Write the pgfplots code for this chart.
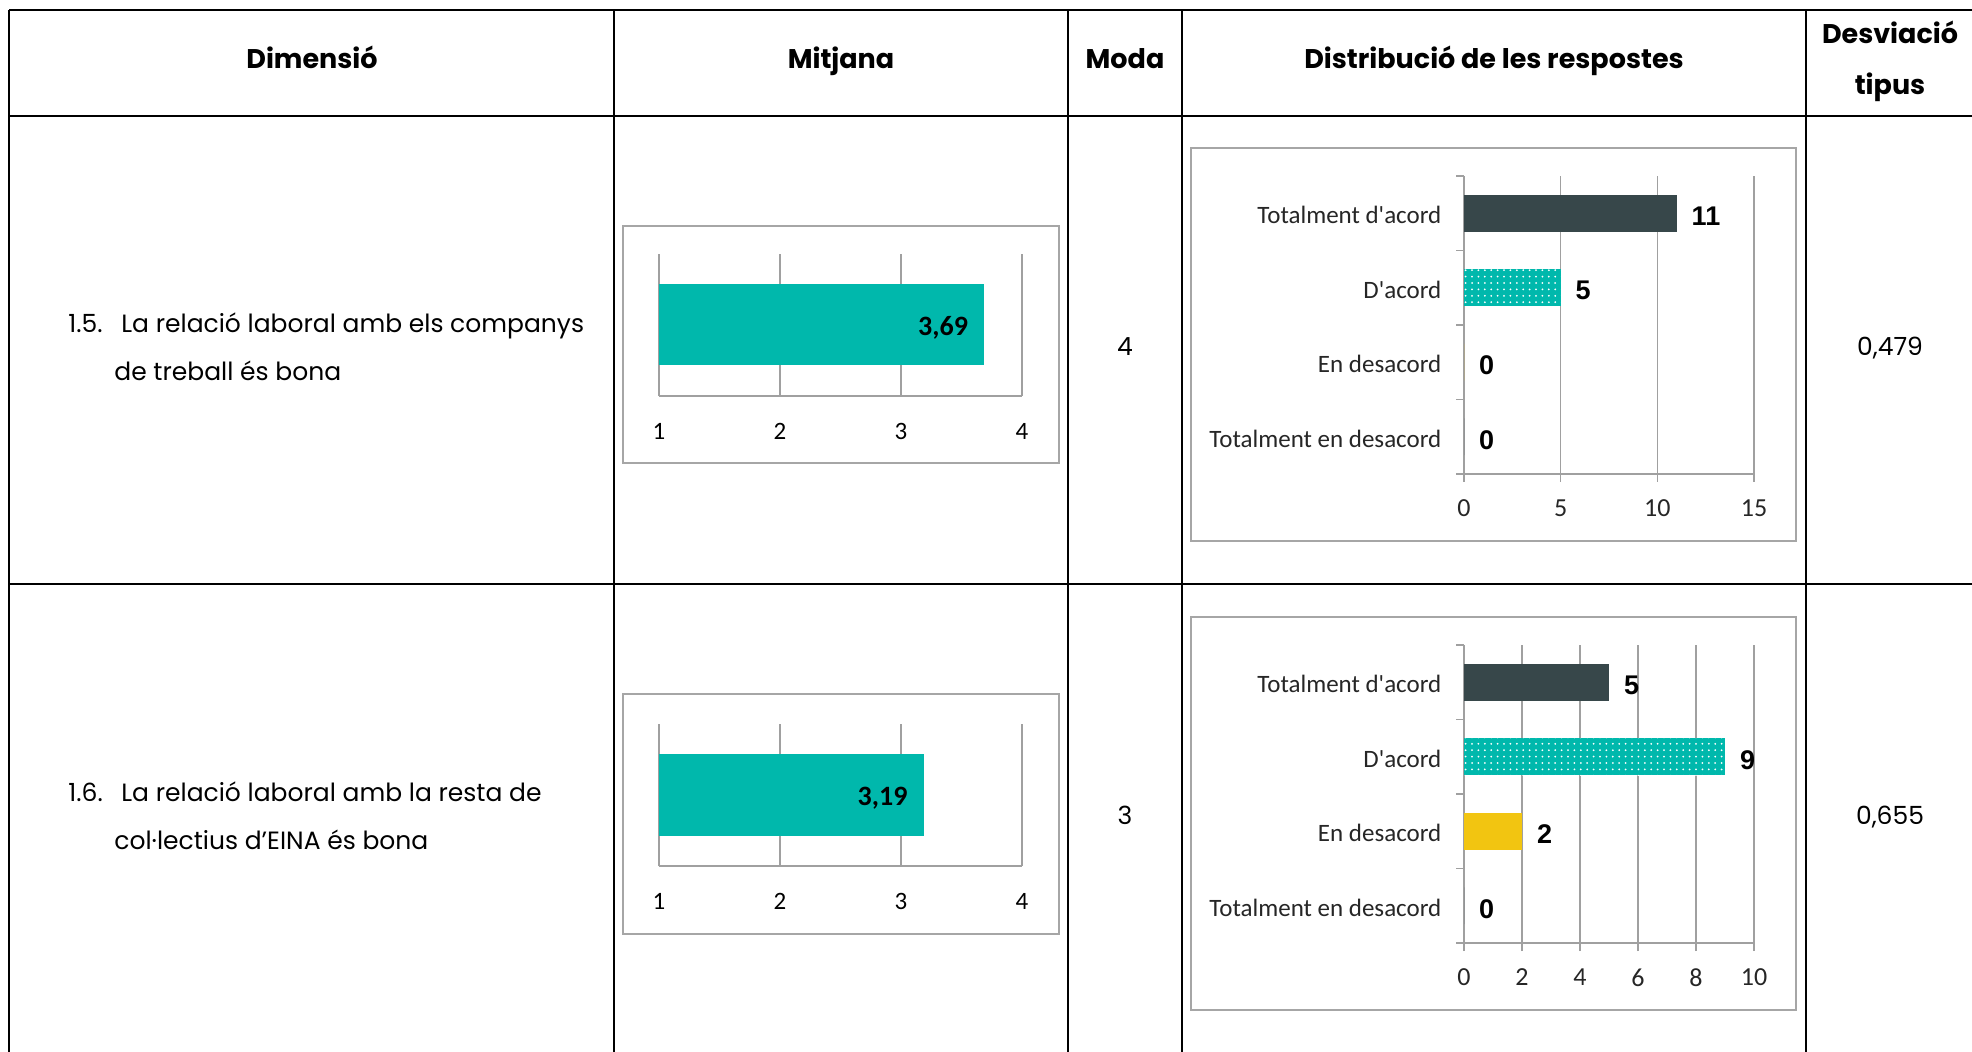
\documentclass[border=0pt]{standalone}
\usepackage{fontspec}
\setmainfont{Poppins}
\newfontfamily\chartfont{Carlito}
\newfontfamily\valfont{Liberation Sans}
\usepackage{pgfplots}
\pgfplotsset{compat=1.18}
\usetikzlibrary{patterns}

\definecolor{barteal}{HTML}{00B8AC}
\definecolor{bardark}{HTML}{37474A}
\definecolor{baryellow}{HTML}{F2C511}
\definecolor{gridgray}{HTML}{A0A0A0}
\definecolor{boxgray}{HTML}{A6A6A6}

% white dots, a bit sparser than tikz's own
\pgfdeclarepatternformonly{whitedots}{\pgfqpoint{-1pt}{-1pt}}{\pgfqpoint{1pt}{1pt}}{\pgfqpoint{3.2pt}{3.2pt}}{%
  \pgfpathcircle{\pgfqpoint{0pt}{0pt}}{.5pt}\pgfusepath{fill}}

\pgfplotsset{
  meanchart/.style={
    at={(329.5pt,#1)}, anchor=south west,
    scale only axis, width=181.5pt, height=71pt,
    xmin=1, xmax=4, ymin=-0.5, ymax=0.5,
    xbar, bar width=40.5pt,
    axis x line*=bottom, axis y line=none,
    xtick={1,2,3,4}, ytick=\empty,
    xmajorgrids, grid style={gridgray, line width=0.6pt},
    x axis line style={gridgray, line width=0.6pt, -},
    xtick style={draw=none},
    /pgf/number format/assume math mode=true,
    xticklabel style={font=\chartfont\fontsize{12.5}{13}\selectfont, anchor=center, yshift=-17.5pt},
    point meta=explicit symbolic,
    nodes near coords,
    nodes near coords style={anchor=east, xshift=-4.7pt, yshift=-1.5pt, text=black,
      font=\chartfont\bfseries\fontsize{14}{15}\selectfont},
  },
  distchart/.style={
    at={(732pt,#1)}, anchor=south west,
    scale only axis, width=145pt, height=149pt,
    xmin=0, ymin=-0.5, ymax=3.5,
    xbar, bar width=18.3pt, bar shift=0pt,
    axis x line*=bottom, axis y line*=left,
    axis line style={gridgray, line width=0.6pt, -},
    ytick={0,1,2,3},
    yticklabels={Totalment en desacord, En desacord, D'acord, Totalment d'acord},
    minor ytick={-0.5,0.5,1.5,2.5,3.5},
    tick align=outside, major tick length=4pt, minor tick length=4pt,
    every tick/.style={gridgray, line width=0.6pt},
    major y tick style={draw=none},
    xmajorgrids, grid style={gridgray, line width=0.6pt},
    /pgf/number format/assume math mode=true,
    yticklabel style={font=\chartfont\fontsize{12.5}{13}\selectfont, text=black!85, xshift=-3.8pt, yshift=-1pt},
    xticklabel style={font=\chartfont\fontsize{13}{14}\selectfont, anchor=center, yshift=-13.2pt, text=black!85},
    nodes near coords,
    nodes near coords style={anchor=west, xshift=4pt, yshift=-1.5pt, text=black,
      font=\valfont\bfseries\fontsize{13.5}{14}\selectfont},
  },
}

\begin{document}
\begin{tikzpicture}
\clip (0pt,0pt) rectangle (986pt,525.5pt);
\fill[white] (0pt,0pt) rectangle (986pt,525.5pt);

% table rules
\begin{scope}[line width=1pt, black]
\draw (4.5pt,520.5pt) -- (995pt,520.5pt);
\draw (4.5pt,467.5pt) -- (995pt,467.5pt);
\draw (4.5pt,233.5pt) -- (995pt,233.5pt);
\foreach \x in {4.5,307,534,591,903}
  \draw (\x pt,-5pt) -- (\x pt,520.5pt);
\end{scope}

% header
\begin{scope}[font=\bfseries\fontsize{13.5}{15}\selectfont, anchor=base]
\node at (156pt,491.3pt) {Dimensió};
\node at (420.5pt,491.3pt) {Mitjana};
\node at (562.5pt,491.3pt) {Moda};
\node at (747pt,491.3pt) {Distribució de les respostes};
\node at (945pt,503.8pt) {Desviació};
\node at (945pt,478pt) {tipus};
\end{scope}

% body text
\begin{scope}[font=\fontsize{12.5}{14}\selectfont, inner sep=0pt]
\node[anchor=mid west] at (34pt,362pt) {1.5.};
\node[anchor=mid west] at (60.5pt,362pt) {La relació laboral amb els companys};
\node[anchor=mid west] at (57pt,338pt) {de treball és bona};
\node[anchor=mid west] at (34pt,127.5pt) {1.6.};
\node[anchor=mid west] at (60.5pt,127.5pt) {La relació laboral amb la resta de};
\node[anchor=mid west] at (57pt,103.5pt) {col·lectius d’EINA és bona};
\node[anchor=base] at (562.5pt,347.6pt) {4};
\node[anchor=base] at (562.5pt,113.1pt) {3};
\node[anchor=base] at (945pt,347.6pt) {0,479};
\node[anchor=base] at (945pt,113.1pt) {0,655};
\end{scope}

% chart frames
\begin{scope}[boxgray, line width=0.7pt]
\draw (311.5pt,294pt) rectangle (529.5pt,412.5pt);
\draw (311.5pt,58.5pt) rectangle (529.5pt,178.5pt);
\draw (595.5pt,255pt) rectangle (898pt,451.5pt);
\draw (595.5pt,20.5pt) rectangle (898pt,217pt);
\end{scope}

% mean 1.5
\begin{axis}[meanchart=327.5pt]
\addplot[fill=barteal, draw=none] coordinates {(3.69,0) [3,69]};
\end{axis}

% mean 1.6
\begin{axis}[meanchart=92.5pt]
\addplot[fill=barteal, draw=none] coordinates {(3.19,0) [3,19]};
\end{axis}

% distribution 1.5
\begin{axis}[distchart=288.5pt, xmax=15, xtick={0,5,10,15}]
\addplot[fill=bardark, draw=none] coordinates {(11,3)};
\addplot[draw=none, preaction={fill=barteal}, pattern=whitedots, pattern color=white] coordinates {(5,2)};
\addplot[fill=baryellow, draw=none] coordinates {(0,1)};
\addplot[fill=bardark, draw=none] coordinates {(0,0)};
\draw[gridgray, line width=0.6pt] (axis cs:0,-0.5) -- ++(-4pt,0pt);
\end{axis}

% distribution 1.6
\begin{axis}[distchart=54pt, xmax=10, xtick={0,2,4,6,8,10}]
\addplot[fill=bardark, draw=none] coordinates {(5,3)};
\addplot[draw=none, preaction={fill=barteal}, pattern=whitedots, pattern color=white] coordinates {(9,2)};
\addplot[fill=baryellow, draw=none] coordinates {(2,1)};
\addplot[fill=bardark, draw=none] coordinates {(0,0)};
\draw[gridgray, line width=0.6pt] (axis cs:0,-0.5) -- ++(-4pt,0pt);
\end{axis}
\end{tikzpicture}
\end{document}
